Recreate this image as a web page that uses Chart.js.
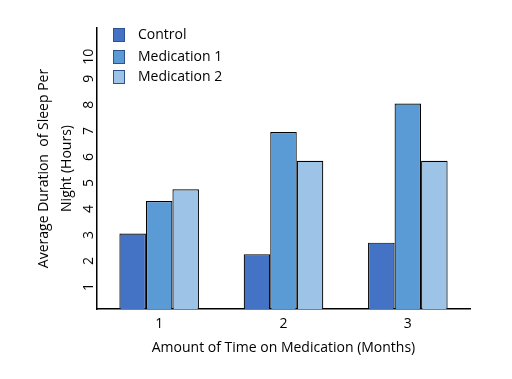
<!DOCTYPE html>
<html>
<head>
<meta charset="utf-8">
<script src="https://cdn.jsdelivr.net/npm/chart.js@4.4.0/dist/chart.umd.min.js"></script>
<style>
html,body{margin:0;padding:0;background:#fff;}
#wrap{width:512px;height:379px;position:relative;}
</style>
</head>
<body>
<div id="wrap"><canvas id="c" width="512" height="379"></canvas></div>
<script>
const categories = ['1', '2', '3'];
const seriesNames = ['Control', 'Medication 1', 'Medication 2'];
const control = [2.9, 2.1, 2.55];
const medication1 = [4.15, 6.8, 7.9];
const medication2 = [4.6, 5.7, 5.7];
const yTicks = [1, 2, 3, 4, 5, 6, 7, 8, 9, 10];
const colors = ['#4472C4', '#5B9BD5', '#9DC3E6'];

const FONT = "'Open Sans', 'Liberation Sans', sans-serif";

const legendPlugin = {
  id: 'innerLegend',
  afterDraw(chart) {
    const ctx = chart.ctx;
    const x0 = chart.chartArea.left + 16;
    const ys = [35, 57, 77];
    ctx.save();
    chart.data.datasets.forEach((ds, i) => {
      const y = ys[i];
      ctx.fillStyle = ds.backgroundColor;
      ctx.fillRect(x0, y - 7, 12, 14);
      ctx.strokeStyle = '#2F528F';
      ctx.lineWidth = 1;
      ctx.strokeRect(x0 + 0.5, y - 6.5, 11, 13);
      ctx.fillStyle = '#000';
      ctx.font = '14px ' + FONT;
      ctx.textBaseline = 'middle';
      ctx.textAlign = 'left';
      ctx.fillText(ds.label, x0 + 25, y);
    });
    ctx.restore();
  }
};

const ds = [control, medication1, medication2].map((d, i) => ({
  label: seriesNames[i],
  data: d,
  backgroundColor: colors[i],
  borderColor: '#000',
  borderWidth: 1.2,
  barPercentage: 1,
  categoryPercentage: 0.64
}));

new Chart(document.getElementById('c'), {
  type: 'bar',
  data: { labels: categories, datasets: ds },
  plugins: [legendPlugin],
  options: {
    responsive: false,
    animation: false,
    devicePixelRatio: 1,
    layout: { padding: { left: 33, right: 42, top: 28, bottom: 19 } },
    plugins: { legend: { display: false }, tooltip: { enabled: false } },
    scales: {
      x: {
        grid: { display: false, drawTicks: false },
        border: { color: '#000', width: 1.5 },
        ticks: { color: '#000', font: { family: FONT, size: 14 }, padding: 7 },
        title: { display: true, text: 'Amount of Time on Medication (Months)', color: '#000', font: { family: FONT, size: 14 }, padding: { top: 0 } },
        afterFit(s) { s.height = 51; }
      },
      y: {
        min: 0,
        max: 10.8,
        grid: { display: false, drawTicks: false },
        border: { color: '#000', width: 1.5 },
        afterBuildTicks(s) { s.ticks = yTicks.map(v => ({ value: v })); },
        ticks: { color: '#000', font: { family: FONT, size: 14 }, minRotation: 90, maxRotation: 90, padding: 8 },
        title: { display: true, text: ['Average Duration  of Sleep Per', 'Night (Hours)'], color: '#000', font: { family: FONT, size: 14, lineHeight: 1.6 }, padding: 0 },
        afterFit(s) { s.width = 64; }
      }
    }
  }
});
</script>
</body>
</html>
